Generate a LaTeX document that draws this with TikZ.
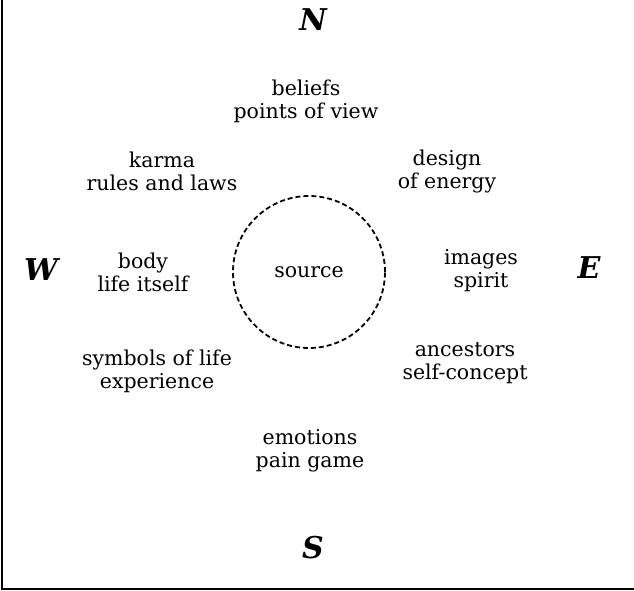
\documentclass[tikz,border=0pt]{standalone}
\usepackage{fontspec}
\setmainfont{DejaVu Serif}
\begin{document}
\begin{tikzpicture}[x=1pt, y=-1pt,
        compass/.style={font=\fontsize{30}{30}\selectfont\bfseries\itshape},
        aspect/.style={align=center, font=\fontsize{20.5}{23}\selectfont}]
        \useasboundingbox (0,0) rectangle (634,591);

        % Frame, only left and bottom edges show
        \draw[line width=1.4pt] (2,0) -- (2,589) -- (634,589);

        % Centre
        \node[circle, draw, dashed, line width=1.8pt, dash pattern=on 5pt off 3pt,
              minimum size=152pt, aspect] (source) at (309,272) {source};

        % Compass points
        \node[compass] (north) at (313,20) {N};
        \node[compass] (south) at (313,548) {S};
        \node[compass] (west) at (41,270) {W};
        \node[compass] (east) at (589,268) {E};

        % Aspects round the source
        \node[aspect] (beliefs) at (306,101) {beliefs\\points of view};
        \node[aspect] (design) at (447,171) {design\\of energy};
        \node[aspect] (images) at (481,271) {images\\spirit};
        \node[aspect] (ancestors) at (465,363) {ancestors\\self-concept};
        \node[aspect] (emotions) at (310,451) {emotions\\pain game};
        \node[aspect] (symbols) at (157,371) {symbols of life\\experience};
        \node[aspect] (body) at (143,272) {body\\life itself};
        \node[aspect] (karma) at (162,171) {karma\\rules and laws};
\end{tikzpicture}
\end{document}
